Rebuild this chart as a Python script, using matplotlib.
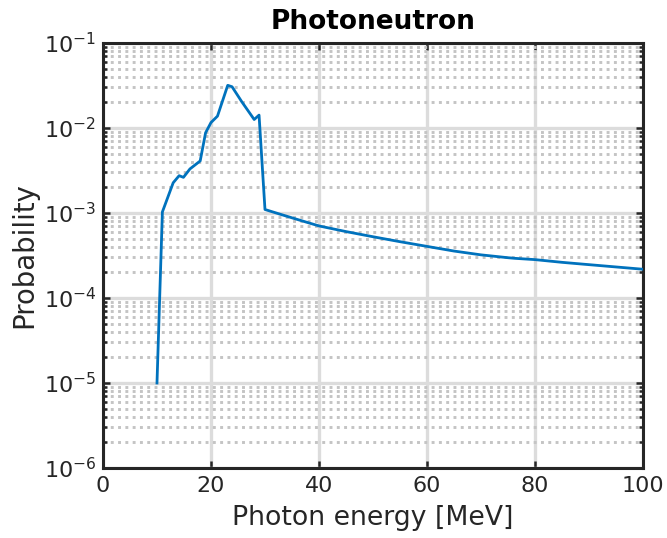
"""
Photoneutron production probability versus incident photon energy,
drawn on a log scale in the MATLAB-like boxed style.
"""

import matplotlib.pyplot as plt
import numpy as np
from matplotlib.ticker import LogLocator, MultipleLocator, NullFormatter

# Photon energy [MeV] and probability along the curve
energy = [10.0, 11.0, 13.0, 14.1, 14.9, 16.1, 18.0, 19.0, 20.0, 21.2,
          23.1, 23.9, 25.7, 28.0, 28.9, 30.0, 33.0, 36.0, 40.0, 45.0,
          50.0, 55.0, 60.0, 65.0, 70.0, 75.0, 76.3, 80.0, 85.0, 89.0,
          95.0, 100.0]
probability = [1.0e-5, 1.03e-3, 2.27e-3, 2.75e-3, 2.63e-3, 3.3e-3, 4.1e-3,
               8.8e-3, 1.16e-2, 1.38e-2, 3.18e-2, 3.06e-2, 2.04e-2, 1.26e-2,
               1.42e-2, 1.1e-3, 9.6e-4, 8.4e-4, 7.05e-4, 6.05e-4, 5.26e-4,
               4.6e-4, 4.05e-4, 3.57e-4, 3.22e-4, 2.98e-4, 2.93e-4, 2.83e-4,
               2.63e-4, 2.5e-4, 2.32e-4, 2.18e-4]

x_ticks = [0, 20, 40, 60, 80, 100]

plt.rcParams["font.family"] = "DejaVu Sans"
plt.rcParams["mathtext.default"] = "regular"

fig = plt.figure(figsize=(6.67, 5.38), dpi=100)
ax = fig.add_axes([0.1544, 0.1301, 0.8096, 0.7899])

ax.plot(energy, probability, color="#0072BD", linewidth=2.0, zorder=3)

ax.set_yscale("log")
ax.set_xlim(0, 100)
ax.set_ylim(1e-6, 1e-1)
ax.set_xticks(x_ticks)
ax.yaxis.set_major_locator(LogLocator(base=10, numticks=10))
ax.yaxis.set_minor_locator(LogLocator(base=10, subs=np.arange(2, 10), numticks=10))
ax.yaxis.set_minor_formatter(NullFormatter())
ax.xaxis.set_minor_locator(MultipleLocator(100))

# grid: solid light majors, dotted minors on y only
ax.grid(True, which="major", axis="both", color="#dcdcdc", linewidth=2.4, zorder=0)
ax.grid(True, which="minor", axis="y", color="#c4c4c4", linewidth=2.1,
        linestyle=(0, (1, 1.5)), zorder=0)
ax.set_axisbelow(True)

for side in ax.spines.values():
    side.set_linewidth(2.2)
    side.set_color("#262626")

ax.tick_params(which="both", direction="in", top=True, right=True,
               colors="#262626", labelsize=16, width=1.8)
ax.tick_params(which="major", length=5)
ax.tick_params(axis="x", which="major", pad=6)
ax.tick_params(axis="y", which="major", pad=5)
ax.tick_params(which="minor", length=3)
ax.tick_params(axis="x", which="minor", length=0)

ax.set_xlabel("Photon energy [MeV]", fontsize=19.3, color="#262626", labelpad=6)
ax.set_ylabel("Probability", fontsize=19.8, color="#262626", labelpad=4)
ax.set_title("Photoneutron", fontsize=19, fontweight="bold", pad=10)

fig.savefig("out.png", dpi=100)
plt.close(fig)
